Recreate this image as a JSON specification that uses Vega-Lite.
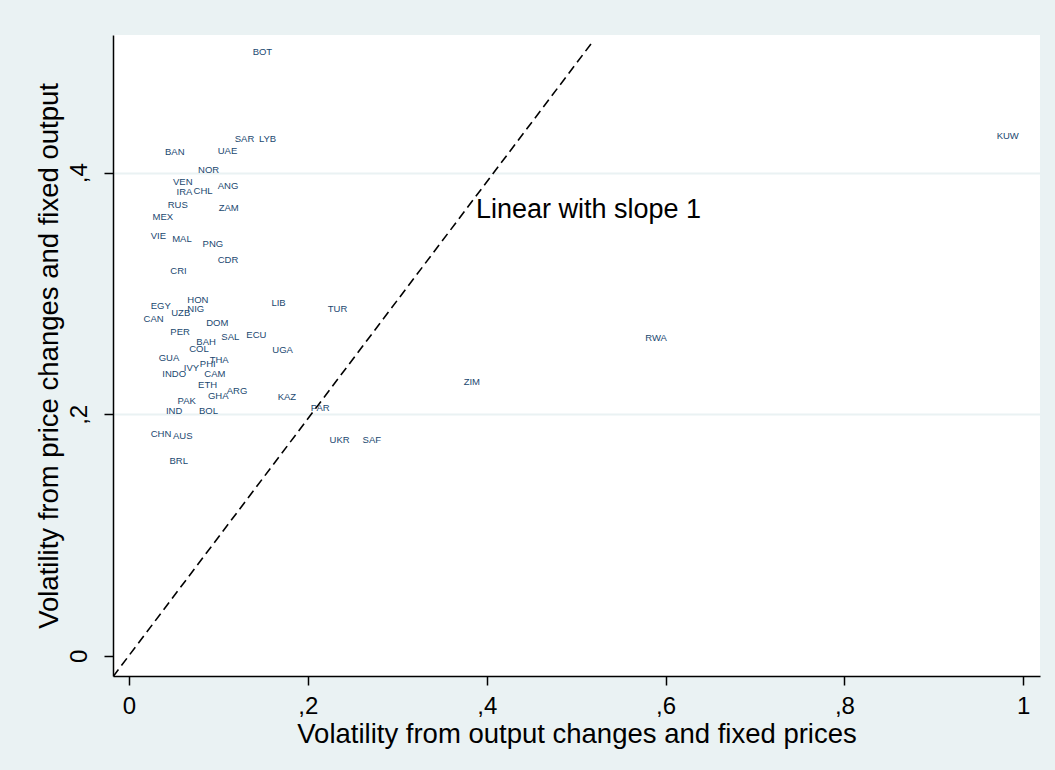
{
  "$schema": "https://vega.github.io/schema/vega-lite/v6.json",
  "width": 927,
  "height": 641,
  "autosize": {"type": "none"},
  "padding": {"left": 113, "top": 35, "right": 15, "bottom": 94},
  "background": "#EAF2F3",
  "config": {
    "view": {"fill": "white", "stroke": null},
    "font": "Liberation Sans",
    "axis": {
      "domainColor": "black", "domainWidth": 1.5,
      "tickColor": "black", "tickWidth": 1.5, "tickSize": 9,
      "labelFont": "Liberation Sans", "labelFontSize": 24, "labelColor": "black",
      "titleFont": "Liberation Sans", "titleFontSize": 27.5, "titleColor": "black", "titleFontWeight": "normal",
      "gridColor": "#EAF2F3", "gridWidth": 2
    }
  },
  "layer": [
    {
      "data": {"values": [
        {"code": "BOT", "x": 0.136, "y": 0.500},
        {"code": "SAR", "x": 0.116, "y": 0.428},
        {"code": "LYB", "x": 0.143, "y": 0.428},
        {"code": "BAN", "x": 0.038, "y": 0.417},
        {"code": "UAE", "x": 0.097, "y": 0.418},
        {"code": "NOR", "x": 0.075, "y": 0.402},
        {"code": "VEN", "x": 0.047, "y": 0.392},
        {"code": "IRA", "x": 0.051, "y": 0.384},
        {"code": "CHL", "x": 0.070, "y": 0.385},
        {"code": "ANG", "x": 0.097, "y": 0.389},
        {"code": "RUS", "x": 0.041, "y": 0.373},
        {"code": "ZAM", "x": 0.098, "y": 0.371},
        {"code": "MEX", "x": 0.024, "y": 0.363},
        {"code": "VIE", "x": 0.022, "y": 0.348},
        {"code": "MAL", "x": 0.046, "y": 0.345},
        {"code": "PNG", "x": 0.080, "y": 0.341},
        {"code": "CDR", "x": 0.097, "y": 0.328},
        {"code": "CRI", "x": 0.044, "y": 0.319},
        {"code": "HON", "x": 0.063, "y": 0.295},
        {"code": "EGY", "x": 0.022, "y": 0.290},
        {"code": "NIG", "x": 0.063, "y": 0.287},
        {"code": "UZB", "x": 0.045, "y": 0.284},
        {"code": "CAN", "x": 0.014, "y": 0.279},
        {"code": "DOM", "x": 0.084, "y": 0.276},
        {"code": "LIB", "x": 0.157, "y": 0.292},
        {"code": "TUR", "x": 0.220, "y": 0.287},
        {"code": "PER", "x": 0.044, "y": 0.268},
        {"code": "SAL", "x": 0.101, "y": 0.264},
        {"code": "ECU", "x": 0.129, "y": 0.266},
        {"code": "BAH", "x": 0.073, "y": 0.260},
        {"code": "COL", "x": 0.065, "y": 0.254},
        {"code": "UGA", "x": 0.158, "y": 0.253},
        {"code": "GUA", "x": 0.031, "y": 0.247},
        {"code": "THA", "x": 0.088, "y": 0.245},
        {"code": "PHI", "x": 0.077, "y": 0.242},
        {"code": "IVY", "x": 0.059, "y": 0.238},
        {"code": "INDO", "x": 0.035, "y": 0.233},
        {"code": "CAM", "x": 0.082, "y": 0.233},
        {"code": "ETH", "x": 0.075, "y": 0.224},
        {"code": "ARG", "x": 0.107, "y": 0.219},
        {"code": "GHA", "x": 0.086, "y": 0.215},
        {"code": "PAK", "x": 0.052, "y": 0.211},
        {"code": "KAZ", "x": 0.164, "y": 0.214},
        {"code": "PAR", "x": 0.201, "y": 0.205},
        {"code": "IND", "x": 0.039, "y": 0.203},
        {"code": "BOL", "x": 0.076, "y": 0.203},
        {"code": "CHN", "x": 0.022, "y": 0.184},
        {"code": "AUS", "x": 0.047, "y": 0.182},
        {"code": "UKR", "x": 0.222, "y": 0.179},
        {"code": "SAF", "x": 0.259, "y": 0.179},
        {"code": "BRL", "x": 0.043, "y": 0.161},
        {"code": "ZIM", "x": 0.372, "y": 0.227},
        {"code": "RWA", "x": 0.575, "y": 0.263},
        {"code": "KUW", "x": 0.968, "y": 0.430}
      ]},
      "mark": {"type": "text", "align": "left", "baseline": "middle", "dx": 2, "fontSize": 9.5, "color": "#1A476F", "font": "Liberation Sans"},
      "encoding": {
        "x": {"field": "x", "type": "quantitative",
          "scale": {"domain": [-0.0179, 1.0187], "nice": false, "zero": false},
          "axis": {"values": [0, 0.2, 0.4, 0.6, 0.8, 1], "grid": false,
            "labelExpr": "datum.value == 0 ? '0' : datum.value == 1 ? '1' : ',' + format(datum.value * 10, '.0f')",
            "labelPadding": 9, "titlePadding": 2,
            "title": "Volatility from output changes and fixed prices"}},
        "y": {"field": "y", "type": "quantitative",
          "scale": {"domain": [-0.0166, 0.514], "nice": false, "zero": false},
          "axis": {"values": [0, 0.2, 0.4], "grid": true,
            "gridOpacity": {"condition": {"test": "datum.value == 0", "value": 0}, "value": 1},
            "labelExpr": "datum.value == 0 ? '0' : ',' + format(datum.value * 10, '.0f')",
            "labelAngle": -90, "labelAlign": "center", "labelBaseline": "bottom", "labelPadding": 13,
            "titlePadding": 4,
            "title": "Volatility from price changes and fixed output"}},
        "text": {"field": "code", "type": "nominal"}
      }
    },
    {
      "data": {"values": [{"x": -0.0179, "y": -0.0172}, {"x": 0.518, "y": 0.508}]},
      "mark": {"type": "line", "color": "black", "strokeWidth": 1.6, "strokeDash": [9, 5], "clip": true},
      "encoding": {
        "x": {"field": "x", "type": "quantitative"},
        "y": {"field": "y", "type": "quantitative"}
      }
    },
    {
      "data": {"values": [{"label": "Linear with slope 1", "x": 0.388, "y": 0.369}]},
      "mark": {"type": "text", "align": "left", "baseline": "middle", "fontSize": 27, "color": "black", "font": "Liberation Sans"},
      "encoding": {
        "x": {"field": "x", "type": "quantitative"},
        "y": {"field": "y", "type": "quantitative"},
        "text": {"field": "label", "type": "nominal"}
      }
    }
  ]
}
